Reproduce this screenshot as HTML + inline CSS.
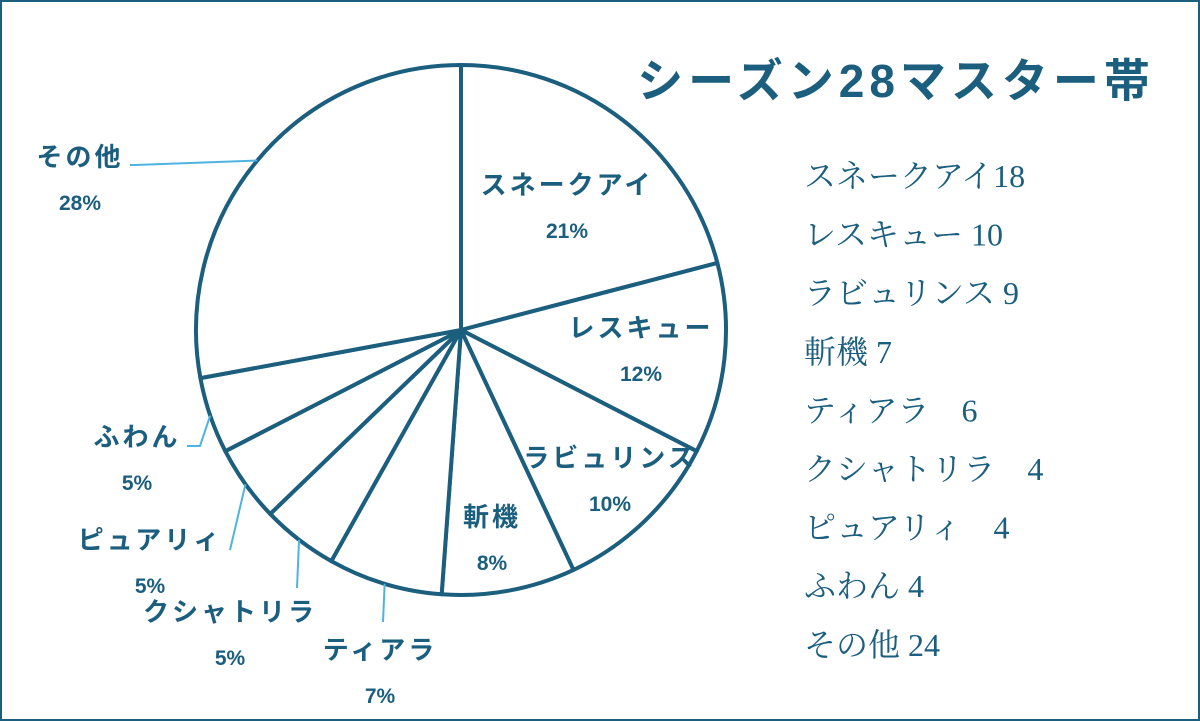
<!DOCTYPE html>
<html><head><meta charset="utf-8">
<style>
html,body{margin:0;padding:0;background:#fff;}
svg{display:block;}
text{font-family:"Liberation Sans","Noto Sans CJK JP",sans-serif;}
</style></head>
<body>
<svg width="1200" height="721" viewBox="0 0 1200 721" id="chart">
<rect x="1" y="1" width="1198" height="719" fill="#fff" stroke="#1b5e7e" stroke-width="2"/>
<text x="896" y="97" text-anchor="middle" font-size="46" font-weight="bold" fill="#1b5e7e" letter-spacing="5">シーズン28マスター帯</text>
<g id="slices"></g>
<g id="leaders"></g>
<g id="labels"></g>
<g id="legend"></g>
</svg>
<script>
const categories = ["スネークアイ","レスキュー","ラビュリンス","斬機","ティアラ","クシャトリラ","ピュアリィ","ふわん","その他"];
const values = [18,10,9,7,6,4,4,4,24];
const percentLabels = ["21%","12%","10%","8%","7%","5%","5%","5%","28%"];
const legendLabels = ["スネークアイ18","レスキュー 10","ラビュリンス 9","斬機 7","ティアラ　6","クシャトリラ　4","ピュアリィ　4","ふわん 4","その他 24"];

const NS="http://www.w3.org/2000/svg";
const cx=461, cy=330, r=265, col="#1b5e7e";
const total=values.reduce((a,b)=>a+b,0);
function pt(a,rr){return [cx+rr*Math.sin(a), cy-rr*Math.cos(a)];}
const labelPos=[[567,185],[641,328],[610,458],[492,517],[380,650],[230,612],[150,540],[137,437],[80,157]];
const leaderStart=[null,null,null,null,[383,622],[297,588],[230,550],[187,446],[130,165]];
let acc=0;
const sg=document.getElementById('slices'), lg=document.getElementById('leaders'), tg=document.getElementById('labels');
values.forEach((v,i)=>{
  const a0=acc/total*2*Math.PI; acc+=v; const a1=acc/total*2*Math.PI;
  const p0=pt(a0,r), p1=pt(a1,r), large=(a1-a0)>Math.PI?1:0;
  const p=document.createElementNS(NS,'path');
  p.setAttribute('d',`M${cx},${cy} L${p0[0]},${p0[1]} A${r},${r} 0 ${large} 1 ${p1[0]},${p1[1]} Z`);
  p.setAttribute('fill','#fff'); p.setAttribute('stroke',col); p.setAttribute('stroke-width','4'); p.setAttribute('stroke-linejoin','round');
  
  
  sg.appendChild(p);
  const am=(a0+a1)/2;
  if(leaderStart[i]){
    const e=pt(am,r); const s=leaderStart[i];
    const l=document.createElementNS(NS,'polyline');
    const mid = i===7 ? `${s[0]+13},${s[1]} ` : (i===8 ? `${s[0]+5},${s[1]} ` : '');
    l.setAttribute('points',`${s[0]},${s[1]} ${mid}${e[0]},${e[1]}`);
    l.setAttribute('fill','none'); l.setAttribute('stroke','#4fb3e0'); l.setAttribute('stroke-width','2');
    
    
    lg.appendChild(l);
  }
  const lp=labelPos[i];
  const t1=document.createElementNS(NS,'text');
  t1.setAttribute('x',lp[0]); t1.setAttribute('y',lp[1]+9); t1.setAttribute('text-anchor','middle');
  t1.setAttribute('font-size','26'); t1.setAttribute('font-weight','bold'); t1.setAttribute('fill',col); t1.setAttribute('letter-spacing','3');
  t1.textContent=categories[i];
  
  
  tg.appendChild(t1);
  const t2=document.createElementNS(NS,'text');
  t2.setAttribute('x',lp[0]); t2.setAttribute('y',lp[1]+53); t2.setAttribute('text-anchor','middle');
  t2.setAttribute('font-size','21'); t2.setAttribute('font-weight','bold'); t2.setAttribute('fill',col);
  t2.textContent=percentLabels[i];
  
  
  tg.appendChild(t2);
});
const leg=document.getElementById('legend');
legendLabels.forEach((s,i)=>{
  const t=document.createElementNS(NS,'text');
  t.setAttribute('x',804); t.setAttribute('y',187+i*58.6);
  t.setAttribute('font-size','32'); t.setAttribute('fill',col);
  t.setAttribute('style','font-family:"Liberation Serif","Noto Serif CJK SC",serif');
  t.textContent=s;
  
  
  leg.appendChild(t);
});
</script>
</body></html>
